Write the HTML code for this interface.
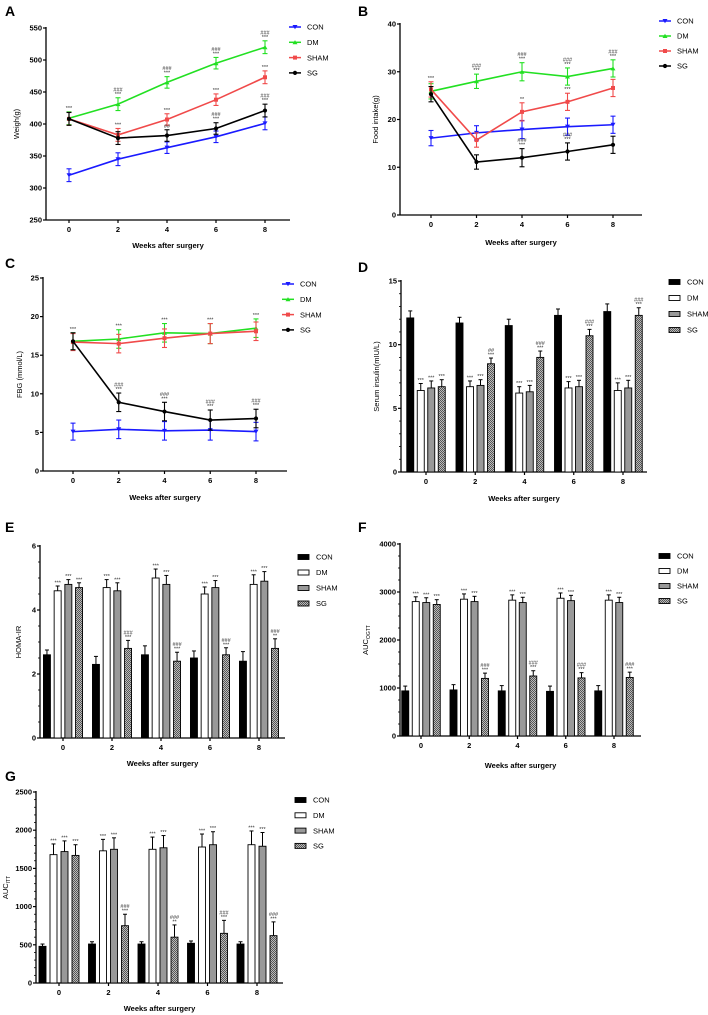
<!DOCTYPE html>
<html><head><meta charset="utf-8">
<style>
html,body{margin:0;padding:0;background:#fff;}
svg{display:block;font-family:"Liberation Sans",Arial,sans-serif;}
</style></head>
<body>
<svg id="fig" width="708" height="1015" viewBox="0 0 708 1015" xmlns="http://www.w3.org/2000/svg">
<defs>
<pattern id="hatch" width="2" height="2" patternUnits="userSpaceOnUse">
<rect width="2" height="2" fill="#bbb"/><rect width="1" height="1" fill="#555"/><rect x="1" y="1" width="1" height="1" fill="#555"/>
</pattern>
</defs>
</svg>
<script>
// ---------- DATA ----------
const weeks = [0, 2, 4, 6, 8];
const groups = ["CON", "DM", "SHAM", "SG"];

// A: Weight (g)
const weightCON = [320, 345, 363, 380, 401];
const weightDM = [409, 431, 465, 495, 520];
const weightSHAM = [408, 383, 407, 438, 473];
const weightSG = [408, 378, 382, 393, 421];
const weightErr = [10, 10, 9, 9, 10];
const weightTicks = [250, 300, 350, 400, 450, 500, 550];

// B: Food intake (g)
const foodCON = [16.1, 17.2, 17.9, 18.5, 18.9];
const foodDM = [25.9, 28.0, 30.0, 29.0, 30.7];
const foodSHAM = [26.3, 15.7, 21.6, 23.7, 26.6];
const foodSG = [25.3, 11.1, 12.0, 13.3, 14.7];
const foodErr = [1.6, 1.5, 1.9, 1.8, 1.8];
const foodTicks = [0, 10, 20, 30, 40];

// C: FBG (mmol/L)
const fbgCON = [5.1, 5.4, 5.2, 5.3, 5.1];
const fbgDM = [16.8, 17.1, 17.9, 17.8, 18.5];
const fbgSHAM = [16.7, 16.5, 17.2, 17.8, 18.1];
const fbgSG = [16.8, 8.9, 7.7, 6.6, 6.8];
const fbgErr = [1.1, 1.2, 1.2, 1.3, 1.2];
const fbgTicks = [0, 5, 10, 15, 20, 25];

// D: Serum insulin
const insCON = [12.1, 11.7, 11.5, 12.3, 12.6];
const insDM = [6.4, 6.7, 6.2, 6.6, 6.4];
const insSHAM = [6.6, 6.8, 6.3, 6.7, 6.6];
const insSG = [6.7, 8.5, 9.0, 10.7, 12.3];
const insErr = [0.55, 0.45, 0.5, 0.5, 0.6];
const insTicks = [0, 5, 10, 15];

// E: HOMA-IR
const homaCON = [2.6, 2.3, 2.6, 2.5, 2.4];
const homaDM = [4.6, 4.7, 5.0, 4.5, 4.8];
const homaSHAM = [4.8, 4.6, 4.8, 4.7, 4.9];
const homaSG = [4.7, 2.8, 2.4, 2.6, 2.8];
const homaErr = [0.15, 0.25, 0.28, 0.22, 0.3];
const homaTicks = [0, 2, 4, 6];

// F: AUC OGTT
const ogttCON = [940, 960, 940, 930, 940];
const ogttDM = [2800, 2850, 2830, 2870, 2830];
const ogttSHAM = [2780, 2800, 2780, 2820, 2780];
const ogttSG = [2740, 1200, 1250, 1210, 1220];
const ogttErr = [100, 110, 110, 110, 110];
const ogttTicks = [0, 1000, 2000, 3000, 4000];

// G: AUC ITT
const ittCON = [480, 510, 510, 520, 510];
const ittDM = [1680, 1730, 1750, 1780, 1810];
const ittSHAM = [1720, 1750, 1770, 1810, 1790];
const ittSG = [1670, 750, 600, 650, 620];
const ittErr = [30, 30, 30, 30, 30];
const ittErrHigh = [140, 150, 160, 170, 180];
const ittTicks = [0, 500, 1000, 1500, 2000, 2500];

// ---------- HELPERS ----------
const NS = "http://www.w3.org/2000/svg";
const svg = document.getElementById("fig");
function mk(tag, attrs, parent, text) {
  const e = document.createElementNS(NS, tag);
  for (const k in attrs) e.setAttribute(k, attrs[k]);
  if (text !== undefined) e.textContent = text;
  (parent || svg).appendChild(e);
  return e;
}
const lineColors = { CON: "#1a1aff", DM: "#22e022", SHAM: "#f04a4a", SG: "#000" };

function panelFrame(p) {
  const g = mk("g", {});
  
  
  const yS = v => p.yBot - (v - p.ymin) / (p.ymax - p.ymin) * (p.yBot - p.yTop);
  const xS = w => p.x0 + (w / 8) * (p.x8 - p.x0);
  const lt = mk("text", { x: p.lx, y: p.ly, "font-size": 14, "font-weight": "bold" }, g, p.letter);
  
  
  // axes
  const ya = mk("line", { x1: p.ax, y1: p.yTop - 1, x2: p.ax, y2: p.yBot, stroke: "#000", "stroke-width": 1.3 }, g);
  
  
  const xa = mk("line", { x1: p.ax, y1: p.yBot, x2: p.xEnd, y2: p.yBot, stroke: "#000", "stroke-width": 1.3 }, g);
  
  
  p.ticks.forEach(t => {
    const y = yS(t);
    mk("line", { x1: p.ax - 3, y1: y, x2: p.ax, y2: y, stroke: "#000", "stroke-width": 1.2 }, g);
    const tl = mk("text", { x: p.ax - 4, y: y + 2.5, "font-size": 7.5, "font-weight": "bold", "text-anchor": "end" }, g, String(t));
    
    
  });
  if (p.minor) {
    for (let i = 0; i < p.ticks.length - 1; i++) {
      const a = p.ticks[i], b = p.ticks[i + 1];
      for (let k = 1; k < p.minor; k++) {
        const y = yS(a + (b - a) * k / p.minor);
        mk("line", { x1: p.ax - 2, y1: y, x2: p.ax, y2: y, stroke: "#000", "stroke-width": 0.8 }, g);
      }
    }
  }
  weeks.forEach(w => {
    const x = xS(w);
    mk("line", { x1: x, y1: p.yBot, x2: x, y2: p.yBot + 3, stroke: "#000", "stroke-width": 1.2 }, g);
    const tl = mk("text", { x: x, y: p.yBot + 12, "font-size": 7.5, "font-weight": "bold", "text-anchor": "middle" }, g, String(w));
    
    
  });
  const xt = mk("text", { x: (p.ax + p.xEnd) / 2, y: p.titleY, "font-size": 7.5, "font-weight": "bold", "text-anchor": "middle" }, g, "Weeks after surgery");
  
  
  const yt = mk("text", { x: 0, y: 0, "font-size": 7.5, "text-anchor": "middle", transform: `translate(${p.ylx},${(p.yTop + p.yBot) / 2}) rotate(-90)` }, g);
  
  
  if (p.ysub) {
    yt.textContent = p.ylabel;
    mk("tspan", { "font-size": 5, dy: 2 }, yt, p.ysub);
  } else yt.textContent = p.ylabel;
  return { g, xS, yS };
}

function marker(g, name, x, y, c) {
  if (name === "CON") mk("path", { d: `M${x - 2.5},${y - 2} L${x + 2.5},${y - 2} L${x},${y + 2.2}Z`, fill: c }, g);
  else if (name === "DM") mk("path", { d: `M${x - 2.5},${y + 2} L${x + 2.5},${y + 2} L${x},${y - 2.2}Z`, fill: c }, g);
  else if (name === "SHAM") mk("rect", { x: x - 2, y: y - 2, width: 4, height: 4, fill: c }, g);
  else mk("circle", { cx: x, cy: y, r: 2.1, fill: c }, g);
}

function linePanel(p, series, err, ann) {
  const { g, xS, yS } = panelFrame(p);
  groups.forEach((name, si) => {
    const vals = series[si], c = lineColors[name];
    const sg = mk("g", {}, g);
    
    
    mk("polyline", { points: vals.map((v, i) => xS(weeks[i]) + "," + yS(v)).join(" "), fill: "none", stroke: c, "stroke-width": 1.6 }, sg);
    vals.forEach((v, i) => {
      const x = xS(weeks[i]), e = err[i];
      const y1 = yS(v + e), y2 = yS(v - e);
      mk("line", { x1: x, y1: y1, x2: x, y2: y2, stroke: c, "stroke-width": 1.1 }, sg);
      mk("line", { x1: x - 2.5, y1: y1, x2: x + 2.5, y2: y1, stroke: c, "stroke-width": 1.1 }, sg);
      mk("line", { x1: x - 2.5, y1: y2, x2: x + 2.5, y2: y2, stroke: c, "stroke-width": 1.1 }, sg);
      marker(sg, name, x, yS(v), c);
      const a = ann[si] && ann[si][i];
      if (a) {
        const lines = a.split("|");
        lines.forEach((t, k) => {
          mk("text", { x: x, y: y1 - 2 - (lines.length - 1 - k) * 4.5, "font-size": 5.5, "text-anchor": "middle", fill: "#333" }, sg, t);
        });
      }
    });
  });
  // legend
  groups.forEach((name, i) => {
    const c = lineColors[name], y = p.legY + i * p.legDy;
    const lg = mk("g", {}, g);
    
    
    mk("line", { x1: p.legX, y1: y, x2: p.legX + 12, y2: y, stroke: c, "stroke-width": 1.5 }, lg);
    marker(lg, name, p.legX + 6, y, c);
    mk("text", { x: p.legX + 18, y: y + 2.7, "font-size": 7.5 }, lg, name);
  });
}

const barFill = { CON: "#000", DM: "#fff", SHAM: "#999", SG: "url(#hatch)" };
function barPanel(p, series, err, ann) {
  const { g, xS, yS } = panelFrame(p);
  const step = p.bstep, bw = p.bw;
  groups.forEach((name, si) => {
    const sg = mk("g", {}, g);
    
    
    series[si].forEach((v, i) => {
      const cx = xS(weeks[i]) + (si - 1.5) * step;
      const yt = yS(v), e = Array.isArray(err[si]) ? err[si][i] : err[i];
      const ye = yS(v + e);
      mk("line", { x1: cx, y1: yt, x2: cx, y2: ye, stroke: "#000", "stroke-width": 1 }, sg);
      mk("line", { x1: cx - 2, y1: ye, x2: cx + 2, y2: ye, stroke: "#000", "stroke-width": 1 }, sg);
      const r = mk("rect", { x: cx - bw / 2, y: yt, width: bw, height: p.yBot - yt, fill: barFill[name], stroke: "#000", "stroke-width": 0.9 }, sg);
      
      
      const a = ann[si] && ann[si][i];
      if (a) {
        const lines = a.split("|");
        lines.forEach((t, k) => {
          mk("text", { x: cx, y: ye - 1.5 - (lines.length - 1 - k) * 4.5, "font-size": 5.5, "text-anchor": "middle", fill: "#333" }, sg, t);
        });
      }
    });
  });
  groups.forEach((name, i) => {
    const y = p.legY + i * p.legDy;
    const lg = mk("g", {}, g);
    
    
    mk("rect", { x: p.legX, y: y - 2.5, width: 11, height: 5, fill: barFill[name], stroke: "#000", "stroke-width": 0.9 }, lg);
    mk("text", { x: p.legX + 18, y: y + 2.7, "font-size": 7.5 }, lg, name);
  });
}

// ---------- PANELS ----------
linePanel({ name: "panel-a-weight", letter: "A", lx: 5, ly: 16, ax: 46, yTop: 28, yBot: 220, ymin: 250, ymax: 550, ticks: weightTicks,
  x0: 69, x8: 265, xEnd: 290, titleY: 248, ylabel: "Weigh(g)", ylx: 19, legX: 289, legY: 27, legDy: 15.3 },
  [weightCON, weightDM, weightSHAM, weightSG], weightErr,
  [[null, null, null, null, null], ["***", "###|***", "###|***", "###|***", "###|***"], [null, "***", "***", "***", "***"], [null, null, "##", "###|***", "###|***"]]);

linePanel({ name: "panel-b-food-intake", letter: "B", lx: 358, ly: 16, ax: 400, yTop: 24, yBot: 215, ymin: 0, ymax: 40, ticks: foodTicks,
  x0: 431, x8: 613, xEnd: 642, titleY: 245, ylabel: "Food intake(g)", ylx: 378, legX: 659, legY: 21, legDy: 15 },
  [foodCON, foodDM, foodSHAM, foodSG], foodErr,
  [[null, null, null, null, null], [null, "###|***", "###|***", "###|***", "###|***"], ["***", null, "**", "***", null], [null, null, "###|***", "###|***", null]]);

linePanel({ name: "panel-c-fbg", letter: "C", lx: 5, ly: 268, ax: 43, yTop: 278, yBot: 471, ymin: 0, ymax: 25, ticks: fbgTicks,
  x0: 73, x8: 256, xEnd: 287, titleY: 500, ylabel: "FBG (mmol/L)", ylx: 22, legX: 282, legY: 284, legDy: 15.3 },
  [fbgCON, fbgDM, fbgSHAM, fbgSG], fbgErr,
  [[null, null, null, null, null], ["***", "***", "***", "***", "***"], [null, null, null, null, null], [null, "###|***", "###|***", "###|***", "###|***"]]);

barPanel({ name: "panel-d-serum-insulin", letter: "D", lx: 358, ly: 272, ax: 401, yTop: 281, yBot: 472, ymin: 0, ymax: 15, ticks: insTicks, minor: 5,
  x0: 426, x8: 623, xEnd: 647, titleY: 501, ylabel: "Serum insulin(mIU/L)", ylx: 379, legX: 669, legY: 282, legDy: 16, bstep: 10.5, bw: 7 },
  [insCON, insDM, insSHAM, insSG], insErr,
  [[null, null, null, null, null], ["***", "***", "***", "***", "***"], ["***", "***", "***", "***", "***"], ["***", "##|***", "###|***", "###|***", "###|***"]]);

barPanel({ name: "panel-e-homa-ir", letter: "E", lx: 5, ly: 532, ax: 40, yTop: 546, yBot: 738, ymin: 0, ymax: 6, ticks: homaTicks, minor: 4,
  x0: 63, x8: 259, xEnd: 285, titleY: 766, ylabel: "HOMA-IR", ylx: 21, legX: 298, legY: 557, legDy: 15.5, bstep: 10.7, bw: 7 },
  [homaCON, homaDM, homaSHAM, homaSG], homaErr,
  [[null, null, null, null, null], ["***", "***", "***", "***", "***"], ["***", "***", "***", "***", "***"], ["***", "###|***", "###|***", "###|***", "###|**"]]);

barPanel({ name: "panel-f-auc-ogtt", letter: "F", lx: 358, ly: 532, ax: 400, yTop: 544, yBot: 736, ymin: 0, ymax: 4000, ticks: ogttTicks, minor: 4,
  x0: 421, x8: 614, xEnd: 641, titleY: 768, ylabel: "AUC", ysub: "OGTT", ylx: 368, legX: 659, legY: 556, legDy: 15, bstep: 10.5, bw: 7 },
  [ogttCON, ogttDM, ogttSHAM, ogttSG], ogttErr,
  [[null, null, null, null, null], ["***", "***", "***", "***", "***"], ["***", "***", "***", "***", "***"], ["***", "###|***", "###|***", "###|***", "###|***"]]);

barPanel({ name: "panel-g-auc-itt", letter: "G", lx: 5, ly: 781, ax: 36, yTop: 792, yBot: 983, ymin: 0, ymax: 2500, ticks: ittTicks, minor: 5,
  x0: 59, x8: 257, xEnd: 283, titleY: 1011, ylabel: "AUC", ysub: "ITT", ylx: 8, legX: 295, legY: 800, legDy: 15.3, bstep: 11, bw: 7 },
  [ittCON, ittDM, ittSHAM, ittSG], [ittErr, ittErrHigh, ittErrHigh, ittErrHigh],
  [[null, null, null, null, null], ["***", "***", "***", "***", "***"], ["***", "***", "***", "***", "***"], ["***", "###|***", "###|**", "###|***", "###|***"]]);
</script>
</body></html>
